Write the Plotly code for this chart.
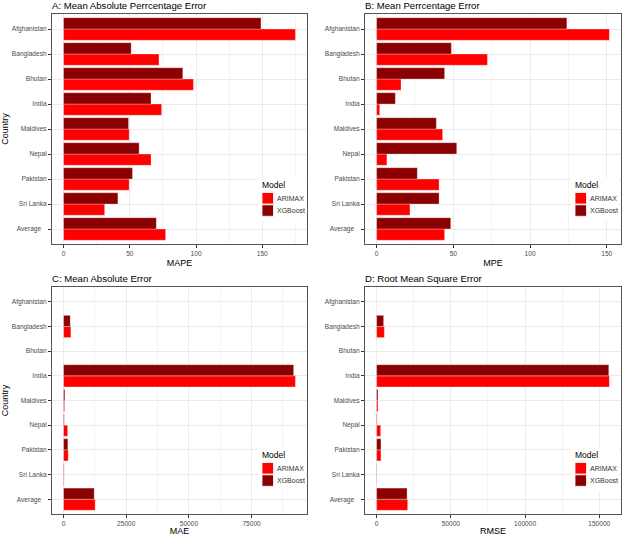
import plotly.graph_objects as go

countries = ["Afghanistan", "Bangladesh", "Bhutan", "India", "Maldives",
             "Nepal", "Pakistan", "Sri Lanka", "Average\u00a0\u00a0\u00a0"]
models = ["ARIMAX", "XGBoost"]

mape_arimax = [175, 72, 98, 74, 49.5, 66, 49.5, 31, 77]
mape_xgboost = [149, 51, 90, 66, 49, 57, 52, 41, 70]
mpe_arimax = [151.7, 72.2, 15.9, 2.0, 43.0, 6.7, 40.7, 21.7, 44.3]
mpe_xgboost = [124.0, 48.7, 44.3, 12.2, 38.9, 52.2, 26.5, 40.7, 48.3]
mae_arimax = [30, 2900, 20, 92500, 400, 1600, 1850, 200, 12600]
mae_xgboost = [25, 2650, 18, 91800, 500, 250, 1700, 200, 12200]
rmse_arimax = [40, 5200, 30, 156800, 900, 2700, 2900, 200, 20900]
rmse_xgboost = [35, 4700, 25, 156400, 900, 300, 2900, 200, 20500]

titles = ["A: Mean Absolute Perrcentage Error", "B: Mean Perrcentage Error",
          "C: Mean Absolute Error", "D: Root Mean Square Error"]
xtitles = ["MAPE", "MPE", "MAE", "RMSE"]
dticks = [50, 50, 25000, 50000]
colors = {"ARIMAX": "#FF0000", "XGBoost": "#8B0000"}

W, H = 625, 536
panels_px = [  # left, right, top, bottom in window pixels
    (52, 307, 14, 244),
    (365, 621, 14, 244),
    (52, 307, 287, 514),
    (365, 621, 287, 514),
]
legend_px = [(262, 185), (575, 185), (262, 455), (575, 455)]

data = [(mape_arimax, mape_xgboost), (mpe_arimax, mpe_xgboost),
        (mae_arimax, mae_xgboost), (rmse_arimax, rmse_xgboost)]

FONT = "Liberation Sans, Arial, sans-serif"


def px_x(v):
    return v / W


def px_y(v):
    return 1 - v / H


fig = go.Figure()
shapes = []
annotations = []
layout = dict(
    width=W, height=H, margin=dict(l=0, r=0, t=0, b=0),
    paper_bgcolor="white", plot_bgcolor="white",
    barmode="group", bargap=0.1, bargroupgap=0,
    font=dict(family=FONT, size=7, color="#4D4D4D"),
    showlegend=False,
)

for i in range(4):
    sfx = "" if i == 0 else str(i + 1)
    ar, xg = data[i]
    for m, vals in zip(models, (ar, xg)):
        fig.add_trace(go.Bar(
            x=vals, y=countries, orientation="h", name=m,
            marker=dict(color=colors[m], line=dict(color="rgba(255,255,255,0.6)", width=0.5)),
            xaxis="x" + sfx, yaxis="y" + sfx,
        ))
    l, r, t, b = panels_px[i]
    mx = max(max(ar), max(xg))
    layout["xaxis" + sfx] = dict(
        domain=[px_x(l), px_x(r)], anchor="y" + sfx,
        range=[-0.05 * mx, 1.05 * mx], dtick=dticks[i], tick0=0, tickformat="d",
        showgrid=True, gridcolor="#EBEBEB", gridwidth=1,
        minor=dict(showgrid=True, gridcolor="#F4F4F4", dtick=dticks[i] / 2, tick0=0),
        showline=True, mirror=True, linecolor="#555555", linewidth=1,
        ticks="outside", ticklen=3, tickcolor="#333333",
        tickfont=dict(size=6.6, color="#4D4D4D"),
        zeroline=False, automargin=False,
        title=dict(text=xtitles[i], font=dict(size=9, color="black"), standoff=3),
        fixedrange=True,
    )
    layout["yaxis" + sfx] = dict(
        domain=[px_y(b), px_y(t)], anchor="x" + sfx,
        type="category", categoryorder="array",
        categoryarray=list(reversed(countries)),
        range=[-0.6, len(countries) - 0.4],
        showgrid=True, gridcolor="#EBEBEB", gridwidth=1,
        showline=True, mirror=True, linecolor="#555555", linewidth=1,
        ticks="outside", ticklen=3, tickcolor="#333333",
        tickfont=dict(size=6.6, color="#4D4D4D"),
        zeroline=False, automargin=False,
        title=dict(text="Country" if i in (0, 2) else "",
                   font=dict(size=9, color="black"), standoff=4),
        fixedrange=True,
    )
    # panel title
    annotations.append(dict(
        text=titles[i], x=px_x(l - 2), y=px_y(t - 1), xref="paper", yref="paper",
        xanchor="left", yanchor="bottom", showarrow=False,
        font=dict(size=9.6, color="black", family=FONT),
    ))
    # legend (drawn inside panel, lower right)
    lx, ty = legend_px[i]
    shapes.append(dict(type="rect", xref="paper", yref="paper", layer="above",
                       x0=px_x(lx - 4), x1=px_x(lx + 44), y0=px_y(ty + 36), y1=px_y(ty - 7),
                       fillcolor="white", line=dict(width=0)))
    annotations.append(dict(
        text="Model", x=px_x(lx - 2), y=px_y(ty), xref="paper", yref="paper",
        xanchor="left", yanchor="middle", showarrow=False,
        font=dict(size=8.5, color="black", family=FONT),
    ))
    for k, m in enumerate(models):
        y0 = ty + 7.5 + k * 12.3
        shapes.append(dict(type="rect", xref="paper", yref="paper", layer="above",
                           x0=px_x(lx), x1=px_x(lx + 11.5), y0=px_y(y0 + 11.5), y1=px_y(y0),
                           fillcolor=colors[m], line=dict(color="white", width=0.8)))
        annotations.append(dict(
            text=m, x=px_x(lx + 13), y=px_y(y0 + 5.75), xref="paper", yref="paper",
            xanchor="left", yanchor="middle", showarrow=False,
            font=dict(size=7, color="#333333", family=FONT),
        ))

layout["shapes"] = shapes
layout["annotations"] = annotations
fig.update_layout(**layout)
fig.write_html(
    "out.html",
    config={"displayModeBar": False, "staticPlot": True},
    post_script="document.body.style.margin='0';document.body.style.padding='0';",
)
